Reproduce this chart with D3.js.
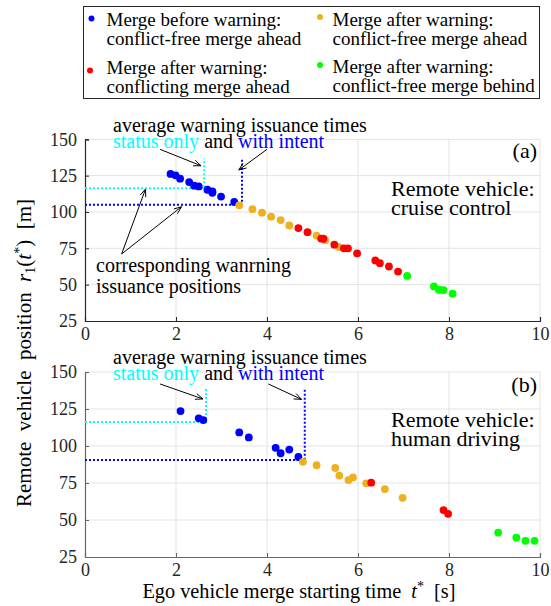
<!DOCTYPE html>
<html>
<head>
<meta charset="utf-8">
<script src="https://cdn.jsdelivr.net/npm/d3@7"></script>
<style>
  body { margin: 0; background: #fff; }
  svg text { font-family: "Liberation Serif", "Times New Roman", Times, "DejaVu Serif", serif; }
  .pre { white-space: pre; }
</style>
</head>
<body>
<svg id="chart" width="551" height="606"></svg>
<script>
// ---- data ----
const xTicks = [0, 2, 4, 6, 8, 10];
const yTicks = [25, 50, 75, 100, 125, 150];

// panel (a): remote vehicle on cruise control
const aBefore = [[1.88,126.2],[1.99,125.2],[2.09,122.9],[2.29,120.6],[2.40,118.1],[2.50,117.6],
                 [2.69,115.3],[2.80,114.1],[2.80,113.2],[2.99,110.6],[3.28,106.9]];
const aAfterFree = [[3.39,104.6],[3.68,101.9],[3.89,99.5],[4.09,96.8],[4.30,94.4],[4.49,90.7],
                    [5.09,83.8],[5.28,80.6],[5.58,75.9]];
const aConflict = [[4.69,88.9],[4.89,86.1],[5.19,81.7],[5.24,81.6],[5.48,77.5],[5.69,75.0],[5.78,75.0],
                   [5.98,71.5],[6.38,66.7],[6.48,64.8],[6.68,62.5],[6.88,59.0]];
const aBehind = [[7.08,56.0],[7.67,48.8],[7.78,46.5],[7.88,46.3],[8.08,43.8]];

// panel (b): remote vehicle human driven
const bBefore = [[2.10,123.6],[2.50,118.7],[2.60,117.5],[3.39,109.2],[3.60,105.8],
                 [4.19,98.8],[4.30,95.1],[4.49,97.6],[4.69,92.6]];
const bAfterFree = [[4.79,89.3],[5.09,87.0],[5.50,85.2],[5.59,80.0],[5.79,77.0],[5.89,78.8],
                    [6.18,74.8],[6.59,70.9],[6.98,65.0]];
const bConflict = [[6.29,75.2],[7.88,56.7],[7.98,54.2]];
const bBehind = [[9.08,41.5],[9.48,38.1],[9.68,35.9],[9.88,35.9]];

// average warning issuance [time, position]
const aStatusOnly = [2.62, 116.4], aWithIntent = [3.45, 104.9];
const bStatusOnly = [2.66, 116.2], bWithIntent = [4.83, 90.6];

const legendLabels = [
  ["Merge before warning:", "conflict-free merge ahead"],
  ["Merge after warning:", "conflict-free merge ahead"],
  ["Merge after warning:", "conflicting merge ahead"],
  ["Merge after warning:", "conflict-free merge behind"]
];
const colors = ["#0000ff", "#edb120", "#ff0000", "#00ff00"];
const cyan = "#00ffff";

const svg = d3.select("#chart");
const SERIF = '"Liberation Serif", "Times New Roman", Times, "DejaVu Serif", serif';

// ---- legend ----
svg.append("rect").attr("x", 83.5).attr("y", 6.5).attr("width", 456).attr("height", 92)
  .attr("fill", "#fff").attr("stroke", "#262626").attr("stroke-width", 1);
// [dot x, dot y, text x, first baseline]
const legPos = [[91.5, 18.5, 106.5, 25.5], [320, 17, 332.5, 25.5], [90, 70.5, 106.5, 74], [320, 65, 332.5, 73]];
legendLabels.forEach((lab, i) => {
  const [dx, dy, tx, ty] = legPos[i];
  svg.append("circle").attr("cx", dx).attr("cy", dy).attr("r", 3).attr("fill", colors[i]);
  const t = svg.append("text").attr("x", tx).attr("y", ty).attr("font-size", 19);
  t.append("tspan").text(lab[0]);
  t.append("tspan").attr("x", tx).attr("dy", 19).text(lab[1]);
});

// ---- panels ----
const x = d3.scaleLinear().domain([0, 10]).range([85, 540]);

function arrow(g, x1, y1, x2, y2) {
  g.append("line").attr("x1", x1).attr("y1", y1).attr("x2", x2).attr("y2", y2)
    .attr("stroke", "#000").attr("stroke-width", 1);
  const a = Math.atan2(y2 - y1, x2 - x1), L = 8, w = 0.38;
  const pts = [[x2, y2],
    [x2 - L * Math.cos(a - w), y2 - L * Math.sin(a - w)],
    [x2 - L * Math.cos(a + w), y2 - L * Math.sin(a + w)]];
  g.append("path").attr("d", "M" + pts[0] + "L" + pts[1] + "M" + pts[0] + "L" + pts[2])
    .attr("stroke", "#000").attr("stroke-width", 1).attr("fill", "none");
}

function drawPanel(o) {
  const y = d3.scaleLinear().domain([25, 150]).range([o.bottom, o.top]);
  const g = svg.append("g");

  // grid
  g.selectAll(".gx").data(xTicks.slice(1)).enter().append("line")
    .attr("x1", d => x(d)).attr("x2", d => x(d)).attr("y1", y(25)).attr("y2", y(150))
    .attr("stroke", "#e3e3e3").attr("stroke-width", 1);
  g.selectAll(".gy").data(yTicks.slice(1)).enter().append("line")
    .attr("x1", x(0)).attr("x2", x(10)).attr("y1", d => y(d)).attr("y2", d => y(d))
    .attr("stroke", "#e3e3e3").attr("stroke-width", 1);

  // axes
  const ax = g.append("g").attr("transform", `translate(0,${y(25)})`)
    .call(d3.axisBottom(x).tickValues(xTicks).tickSize(-4).tickPadding(6).tickFormat(d3.format("d")));
  const ay = g.append("g").attr("transform", `translate(${x(0)},0)`)
    .call(d3.axisLeft(y).tickValues(yTicks).tickSize(-4).tickPadding(8).tickFormat(d3.format("d")));
  [ax, ay].forEach(a => {
    a.attr("font-family", SERIF);
    a.select(".domain").attr("stroke", o.axisColor).attr("stroke-width", 1.2);
    a.selectAll(".tick line").attr("stroke", o.axisColor);
    a.selectAll("text").attr("font-size", 18).attr("fill", "#262626");
  });

  // average warning issuance lines
  [[o.status, cyan], [o.intent, "#0000ff"]].forEach(([p, c]) => {
    g.append("path")
      .attr("d", `M${x(0)},${y(p[1])}H${x(p[0])}V${y(o.lineTop)}`)
      .attr("fill", "none").attr("stroke", c).attr("stroke-width", 2)
      .attr("stroke-dasharray", "2,2");
  });

  // points
  o.sets.forEach((s, i) => {
    g.selectAll(null).data(s).enter().append("circle")
      .attr("cx", d => x(d[0])).attr("cy", d => y(d[1])).attr("r", 3.9)
      .attr("fill", colors[i]);
  });

  // annotation text
  g.append("text").attr("x", 113).attr("y", o.textY).attr("font-size", 20)
    .text("average warning issuance times");
  const t2 = g.append("text").attr("x", 113).attr("y", o.textY + 16.5).attr("font-size", 20);
  t2.append("tspan").attr("fill", cyan).text("status only");
  t2.append("tspan").attr("fill", "#000").text(" and ");
  t2.append("tspan").attr("fill", "#0000ff").text("with intent");

  arrow(g, x(1.65), y(o.arrowStartY), x(o.status[0] - 0.07), y(131.8));
  arrow(g, x(o.intentArrow[0]), y(o.arrowStartY), x(o.intent[0] - 0.07), y(o.intentArrow[1]));

  g.append("text").attr("x", 537).attr("y", o.labelY).attr("text-anchor", "end")
    .attr("font-size", 22).text(o.tag);
  const r = g.append("text").attr("x", 391).attr("y", o.remoteY).attr("font-size", 22);
  r.append("tspan").text("Remote vehicle:");
  r.append("tspan").attr("x", 391).attr("dy", 19).text(o.remote);
  return { g, y };
}

const pa = drawPanel({
  top: 139.3, bottom: 321, axisColor: "#262626",
  sets: [aBefore, aAfterFree, aConflict, aBehind],
  status: aStatusOnly, intent: aWithIntent, lineTop: 136.8,
  textY: 131.5, arrowStartY: 143.1, intentArrow: [4.0, 128.9],
  tag: "(a)", labelY: 158, remoteY: 196, remote: "cruise control"
});
const pb = drawPanel({
  top: 372, bottom: 557, axisColor: "#666",
  sets: [bBefore, bAfterFree, bConflict, bBehind],
  status: bStatusOnly, intent: bWithIntent, lineTop: 138.6,
  textY: 363.5, arrowStartY: 141.9, intentArrow: [4.03, 131.5],
  tag: "(b)", labelY: 392, remoteY: 427, remote: "human driving"
});

// "corresponding positions" arrows in panel (a)
arrow(pa.g, x(0.805), pa.y(71.1), x(1.33), pa.y(115.7));
arrow(pa.g, x(0.805), pa.y(71.1), x(2.12), pa.y(103.6));
const ct = pa.g.append("text").attr("x", 96).attr("y", 272).attr("font-size", 20);
ct.append("tspan").text("corresponding wanrning");
ct.append("tspan").attr("x", 96).attr("dy", 20.5).text("issuance positions");

// axis titles
const xl = svg.append("text").attr("class", "pre").attr("x", 299).attr("y", 598)
  .attr("text-anchor", "middle").attr("font-size", 20.3);
xl.append("tspan").text("Ego vehicle merge starting time  ");
xl.append("tspan").attr("font-style", "italic").text("t");
xl.append("tspan").attr("dy", -7).attr("font-size", 14).text("*");
xl.append("tspan").attr("dy", 7).text("  [s]");

const yl = svg.append("text").attr("class", "pre").attr("transform", "translate(31,353) rotate(-90)")
  .attr("text-anchor", "middle").attr("font-size", 21);
yl.append("tspan").text("Remote  vehicle  position  ");
yl.append("tspan").attr("font-style", "italic").text("r");
yl.append("tspan").attr("dy", 4).attr("font-size", 14).text("1");
yl.append("tspan").attr("dy", -4).text("(");
yl.append("tspan").attr("font-style", "italic").text("t");
yl.append("tspan").attr("dy", -7).attr("font-size", 14).text("*");
yl.append("tspan").attr("dy", 7).text(")  [m]");
</script>
</body>
</html>
